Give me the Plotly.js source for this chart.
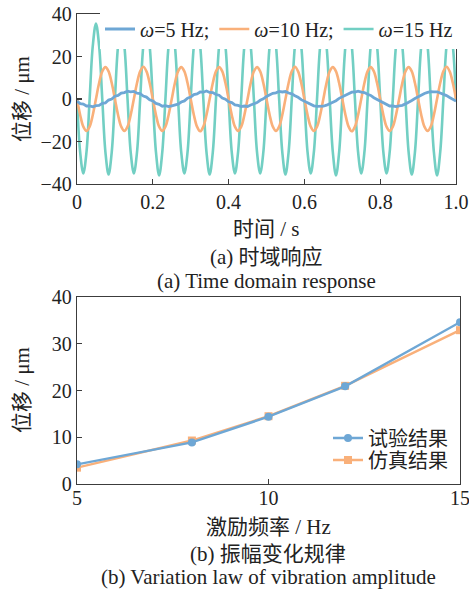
<!DOCTYPE html>
<html>
<head>
<meta charset="utf-8">
<script src="https://cdn.plot.ly/plotly-3.0.1.min.js"></script>
<style>
  html, body { margin: 0; padding: 0; background: #fff; }
  #chart { width: 469px; height: 590px; }
</style>
</head>
<body>
<div id="chart"></div>
<script>
// ---------- (a) time-domain response: samples ----------
const SAMPLE_T0 = 0;          // s
const SAMPLE_DT = 1 / 120;    // s between samples

const disp5Hz = [
  -1.0,-2.2,-2.4,-3.3,-3.2,-3.7,-3.1,-3.0,-2.0,-1.8,-0.5,0.0,1.3,1.7,2.8,3.0,3.7,3.4,3.6,2.7,2.5,1.4,0.9,-0.4,
  -0.9,-2.1,-2.5,-3.4,-3.1,-3.6,-3.2,-2.7,-2.4,-1.4,-0.9,0.4,0.9,2.1,2.4,3.3,3.2,3.8,3.1,3.0,2.1,1.8,0.5,-0.1,
  -1.3,-1.7,-2.8,-3.0,-3.6,-3.3,-3.5,-2.8,-2.1,-1.7,-0.6,0.1,1.2,1.8,2.7,2.9,3.6,3.3,3.5,2.8,2.4,1.5,0.8,-0.3,
  -1.0,-2.0,-2.7,-3.2,-3.5,-3.4,-3.4,-2.9,-2.2,-1.5,-0.8,0.3,1.0,2.0,2.5,3.2,3.3,3.7,3.2,3.0,2.2,1.7,0.6,-0.2,
  -1.2,-1.8,-2.6,-3.3,-3.3,-3.6,-3.2,-3.0,-2.3,-1.6,-0.7,0.2,1.1,1.9,2.6,3.1,3.5,3.4,3.4,2.8,2.3,1.6,0.7,-0.2,
  -1.0
];
const disp10Hz = [
  0,-7.5,-13,-15,-13,-7.5,0,7.5,13,15,13,7.5,
  0,-7.5,-13,-15,-13,-7.5,0,7.5,13,15.2,13,7.5,
  0,-7.5,-13,-15,-13,-7.5,0,7.5,13,15,13,7.5,
  0,-7.5,-13,-15.2,-13,-7.5,0,7.5,13,15,13,7.5,
  0,-7.5,-13,-15,-13,-7.5,0,7.5,13,15,13,7.5,
  0,-7.5,-13,-15,-13,-7.5,0,7.5,13,15.2,13,7.5,
  0,-7.5,-13,-15,-13,-7.5,0,7.5,13,15,13,7.5,
  0,-7.5,-13,-15.2,-13,-7.5,0,7.5,13,15,13,7.5,
  0,-7.5,-13,-15,-13,-7.5,0,7.5,13,15,13,7.5,
  0,-7.5,-13,-15,-13,-7.5,0,7.5,13,15.2,13,7.5,
  0
];
const disp15Hz = [
  0,-25,-35,-25,0,25,35.5,25,
  0,-25,-35.5,-25,0,25,35,25,
  0,-25,-35,-25,0,25,35,25,
  0,-25,-36,-25,0,25,35,25,
  0,-25,-35,-25,0,25,35,25,
  0,-25,-35.5,-25,0,25,35,25,
  0,-25,-35,-25,0,25,35,25,
  0,-25,-35,-25,0,25,35.5,25,
  0,-25,-35.5,-25,0,25,35,25,
  0,-25,-35,-25,0,25,35,25,
  0,-25,-36,-25,0,25,35,25,
  0,-25,-35,-25,0,25,35,25,
  0,-25,-35,-25,0,25,35,25,
  0,-25,-35.5,-25,0,25,35,25,
  0,-25,-36,-25,0,25,35,25,
  0
];
const timeTickVals = [0, 0.2, 0.4, 0.6, 0.8, 1.0];
const timeTickText = ['0', '0.2', '0.4', '0.6', '0.8', '1.0'];

// ---------- (b) amplitude vs. excitation frequency ----------
const freqHz = [5, 8, 10, 12, 15];
const testAmp = [4.2, 8.9, 14.4, 20.9, 34.6];
const simAmp  = [3.5, 9.3, 14.5, 21.0, 32.9];
const freqTickVals = [5, 10, 15];

// ---------- styling ----------
const W = 469, H = 590;
const LATIN = '"Liberation Serif", "Times New Roman", "Noto Sans CJK SC", serif';
const CJK = '"Liberation Serif", "Noto Sans CJK SC", serif';
const AX = '#3c3c3c';
const C_BLUE = '#6ea7d5', C_ORANGE = '#f9b07a', C_TEAL = '#72cfc3';
const px = v => v / W;
const py = v => (H - v) / H;

const axisBase = {
  showline: true, mirror: true, linecolor: AX, linewidth: 1.3,
  ticks: 'inside', ticklen: 5, tickwidth: 1.2, tickcolor: AX,
  showgrid: false, zeroline: false, ticklabeloverflow: 'allow',
  tickfont: {family: LATIN, size: 20, color: '#222'}
};

const traces = [
  {x0: SAMPLE_T0, dx: SAMPLE_DT, y: disp15Hz, type: 'scatter', mode: 'lines',
   name: '<i>ω</i>=15 Hz', line: {color: C_TEAL, width: 2.6, shape: 'spline'},
   xaxis: 'x', yaxis: 'y', legend: 'legend', legendrank: 3},
  {x0: SAMPLE_T0, dx: SAMPLE_DT, y: disp10Hz, type: 'scatter', mode: 'lines',
   name: '<i>ω</i>=10 Hz;', line: {color: C_ORANGE, width: 2.6, shape: 'spline'},
   xaxis: 'x', yaxis: 'y', legend: 'legend', legendrank: 2},
  {x0: SAMPLE_T0, dx: SAMPLE_DT, y: disp5Hz, type: 'scatter', mode: 'lines',
   name: '<i>ω</i>=5 Hz;', line: {color: C_BLUE, width: 2.8},
   xaxis: 'x', yaxis: 'y', legend: 'legend', legendrank: 1},

  {x: freqHz, y: simAmp, type: 'scatter', mode: 'lines+markers',
   name: '仿真结果', line: {color: C_ORANGE, width: 2.4},
   marker: {symbol: 'square', size: 8, color: C_ORANGE},
   xaxis: 'x2', yaxis: 'y2', legend: 'legend3'},
  {x: freqHz, y: testAmp, type: 'scatter', mode: 'lines+markers',
   name: '试验结果', line: {color: C_BLUE, width: 2.4},
   marker: {symbol: 'circle', size: 8, color: C_BLUE},
   xaxis: 'x2', yaxis: 'y2', legend: 'legend2'}
];

const ann = (text, x, y, extra) => Object.assign({
  text, x: px(x), y: py(y), xref: 'paper', yref: 'paper',
  xanchor: 'center', yanchor: 'middle', showarrow: false,
  font: {family: CJK, size: 21, color: '#222'}
}, extra || {});

const layout = {
  width: W, height: H,
  margin: {l: 0, r: 0, t: 0, b: 0},
  paper_bgcolor: '#fff', plot_bgcolor: '#fff',
  showlegend: true,
  xaxis: Object.assign({}, axisBase, {domain: [px(77), px(456)], range: [0, 1],
    tickvals: timeTickVals, ticktext: timeTickText, anchor: 'y'}),
  yaxis: Object.assign({}, axisBase, {domain: [py(184), py(14)], range: [-40, 40],
    dtick: 20, anchor: 'x'}),
  xaxis2: Object.assign({}, axisBase, {domain: [px(77), px(460)], range: [5, 15],
    tickvals: freqTickVals, anchor: 'y2', ticklabelstandoff: -4}),
  yaxis2: Object.assign({}, axisBase, {domain: [py(484), py(297)], range: [0, 40],
    dtick: 10, anchor: 'x2'}),
  legend: {orientation: 'h', x: px(100), y: py(29), xanchor: 'left', yanchor: 'middle',
    bgcolor: '#fff', borderwidth: 0, traceorder: 'normal',
    font: {family: LATIN, size: 20, color: '#222'}},
  legend2: {x: px(328), y: py(438), xanchor: 'left', yanchor: 'middle',
    bgcolor: 'rgba(0,0,0,0)', font: {family: CJK, size: 20, color: '#222'}},
  legend3: {x: px(328), y: py(460), xanchor: 'left', yanchor: 'middle',
    bgcolor: 'rgba(0,0,0,0)', font: {family: CJK, size: 20, color: '#222'}},
  annotations: [
    ann('位移 / μm', 22, 99, {textangle: -90}),
    ann('时间 / s', 266, 229),
    ann('(a) 时域响应', 266, 257),
    ann('(a) Time domain response', 266, 281),
    ann('位移 / μm', 22, 390, {textangle: -90}),
    ann('激励频率 / Hz', 268, 527),
    ann('(b) 振幅变化规律', 268, 554),
    ann('(b) Variation law of vibration amplitude', 268, 577)
  ]
};

Plotly.newPlot('chart', traces, layout, {displayModeBar: false, staticPlot: true});
</script>
</body>
</html>
